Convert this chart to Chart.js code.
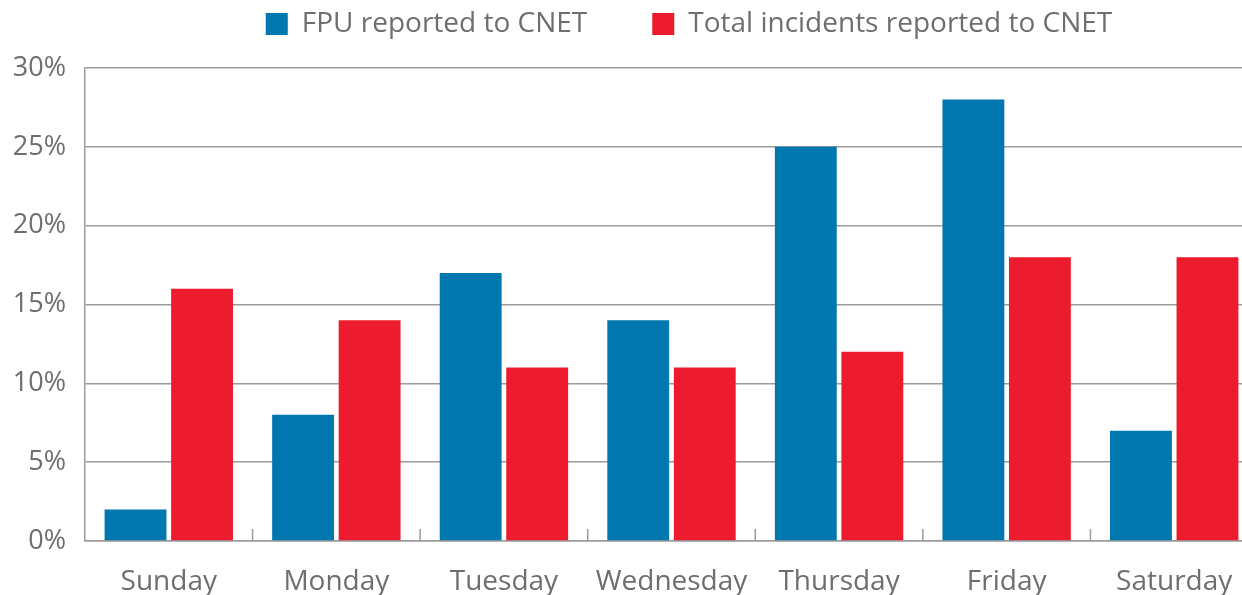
<!DOCTYPE html>
<html>
<head>
    <title>FPU vs total incidents reported to CNET by day</title>
    <script src="https://cdn.jsdelivr.net/npm/chart.js"></script>
    <style>
        html, body { margin: 0; padding: 0; overflow: hidden; background: #fff; }
    </style>
</head>
<body>
    <canvas id="dayChart" width="1258" height="595"></canvas>

    <script>
        // dados
        const days = ['Sunday', 'Monday', 'Tuesday', 'Wednesday', 'Thursday', 'Friday', 'Saturday'];
        const fpuReported = [2, 8, 17, 14, 25, 28, 7];
        const totalReported = [16, 14, 11, 11, 12, 18, 18];
        const yTicks = [0, 5, 10, 15, 20, 25, 30];

        const textColor = '#6d6e71';
        const lineColor = '#9b9b9b';

        // pequenos traços entre categorias, para dentro do gráfico
        const boundaryTicks = {
            id: 'boundaryTicks',
            afterDatasetsDraw(chart) {
                const x = chart.scales.x;
                const ctx = chart.ctx;
                const bottom = chart.chartArea.bottom;
                ctx.save();
                ctx.strokeStyle = lineColor;
                ctx.lineWidth = 1.5;
                for (let i = 1; i < days.length; i++) {
                    const px = (x.getPixelForValue(i - 1) + x.getPixelForValue(i)) / 2;
                    ctx.beginPath();
                    ctx.moveTo(px, bottom);
                    ctx.lineTo(px, bottom - 12);
                    ctx.stroke();
                }
                ctx.restore();
            }
        };

        // o padding da legenda afasta os itens; sobe e desloca a caixa depois do layout
        const legendShift = {
            id: 'legendShift',
            afterLayout(chart) {
                const lg = chart.legend;
                lg.top -= 55;
                lg.left += 60; lg.right += 60;
            }
        };

        const ctx = document.getElementById('dayChart').getContext('2d');
        const dayChart = new Chart(ctx, {
            type: 'bar',
            data: {
                labels: days,
                datasets: [{
                    label: 'FPU reported to CNET',
                    data: fpuReported,
                    backgroundColor: '#0077ae'
                }, {
                    label: 'Total incidents reported to CNET',
                    data: totalReported,
                    backgroundColor: '#ec1c2e'
                }]
            },
            options: {
                responsive: false,
                animation: false,
                datasets: {
                    bar: { categoryPercentage: 0.794, barPercentage: 0.93 }
                },
                plugins: {
                    legend: {
                        position: 'top',
                        maxHeight: 68,
                        labels: {
                            color: textColor,
                            font: { family: 'Open Sans', size: 28 },
                            boxWidth: 22,
                            boxHeight: 22,
                            padding: 65
                        }
                    },
                    tooltip: { enabled: false }
                },
                scales: {
                    x: {
                        grid: { display: false },
                        border: { display: true, color: lineColor, width: 1.5 },
                        ticks: {
                            color: textColor,
                            font: { family: 'Open Sans', size: 28 },
                            padding: 16
                        },
                        afterFit(scale) { scale.height = 54; }
                    },
                    y: {
                        min: 0,
                        max: 30,
                        afterBuildTicks(scale) {
                            scale.ticks = yTicks.map(v => ({ value: v }));
                        },
                        grid: { color: lineColor, lineWidth: 1.5, drawTicks: false },
                        border: { display: true, color: lineColor, width: 1.5 },
                        ticks: {
                            color: textColor,
                            font: { family: 'Open Sans', size: 27 },
                            padding: 19,
                            callback: v => v + '%'
                        },
                        afterFit(scale) { scale.width = 85; }
                    }
                }
            },
            plugins: [boundaryTicks, legendShift]
        });
    </script>
</body>
</html>
